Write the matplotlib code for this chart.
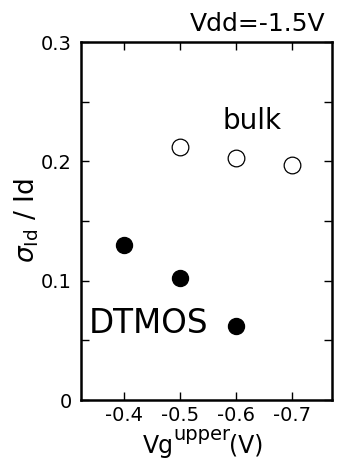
import numpy as np
import matplotlib
matplotlib.use("Agg")
import matplotlib.pyplot as plt
from matplotlib.ticker import MultipleLocator

# ----------------------------
# data
# ----------------------------
vg_dtmos = [-0.4, -0.5, -0.6]
sigma_dtmos = [0.130, 0.102, 0.062]

vg_bulk = [-0.5, -0.6, -0.7]
sigma_bulk = [0.212, 0.203, 0.197]

x_ticks = [-0.4, -0.5, -0.6, -0.7]
x_tick_labels = ["-0.4", "-0.5", "-0.6", "-0.7"]
y_ticks = [0, 0.1, 0.2, 0.3]
y_tick_labels = ["0", "0.1", "0.2", "0.3"]

# ----------------------------
# style
# ----------------------------
plt.rcParams["font.family"] = ["DejaVu Sans"]
plt.rcParams["mathtext.fontset"] = "dejavusans"

fig = plt.figure(figsize=(3.37, 4.63), dpi=100)
ax = fig.add_axes([0.240, 0.136, 0.745, 0.773])

ax.plot(vg_dtmos, sigma_dtmos, "o", ms=11.5, mfc="black", mec="black")
ax.plot(vg_bulk, sigma_bulk, "o", ms=12, mfc="white", mec="black", mew=0.9)

ax.set_xlim(-0.323, -0.771)
ax.set_ylim(0, 0.3)

ax.set_xticks(x_ticks)
ax.set_xticklabels(x_tick_labels)
ax.set_yticks(y_ticks)
ax.set_yticklabels(y_tick_labels)
ax.yaxis.set_minor_locator(MultipleLocator(0.05))

ax.tick_params(which="both", direction="in", top=True, right=True,
               length=6, width=1, labelsize=14)
ax.tick_params(axis="y", pad=6.5)
ax.tick_params(axis="x", pad=4)
for s in ax.spines.values():
    s.set_linewidth(1.8)

ax.set_ylabel(r"$\sigma_{\mathrm{Id}}$ / Id", fontsize=19, labelpad=0)

# x label built from pieces so the superscript sits high
base_y = 10 / 463
t_vg = fig.text(143 / 337, base_y, "Vg", fontsize=17, va="baseline")
t_up = ax.annotate("upper", xy=(1, base_y), xycoords=(t_vg, "figure fraction"),
                   xytext=(-0.5, 9), textcoords="offset points",
                   fontsize=14, va="baseline")
ax.annotate("(V)", xy=(1, base_y), xycoords=(t_up, "figure fraction"),
            xytext=(-1, 0), textcoords="offset points",
            fontsize=17, va="baseline")

ax.text(-0.575, 0.227, "bulk", fontsize=20, ha="left", va="baseline")
ax.text(-0.3375, 0.0564, "DTMOS", fontsize=23.5, ha="left", va="baseline")
fig.text(0.967, 0.933, "Vdd=-1.5V", fontsize=18, ha="right", va="baseline")

fig.savefig("out.png", dpi=100)
